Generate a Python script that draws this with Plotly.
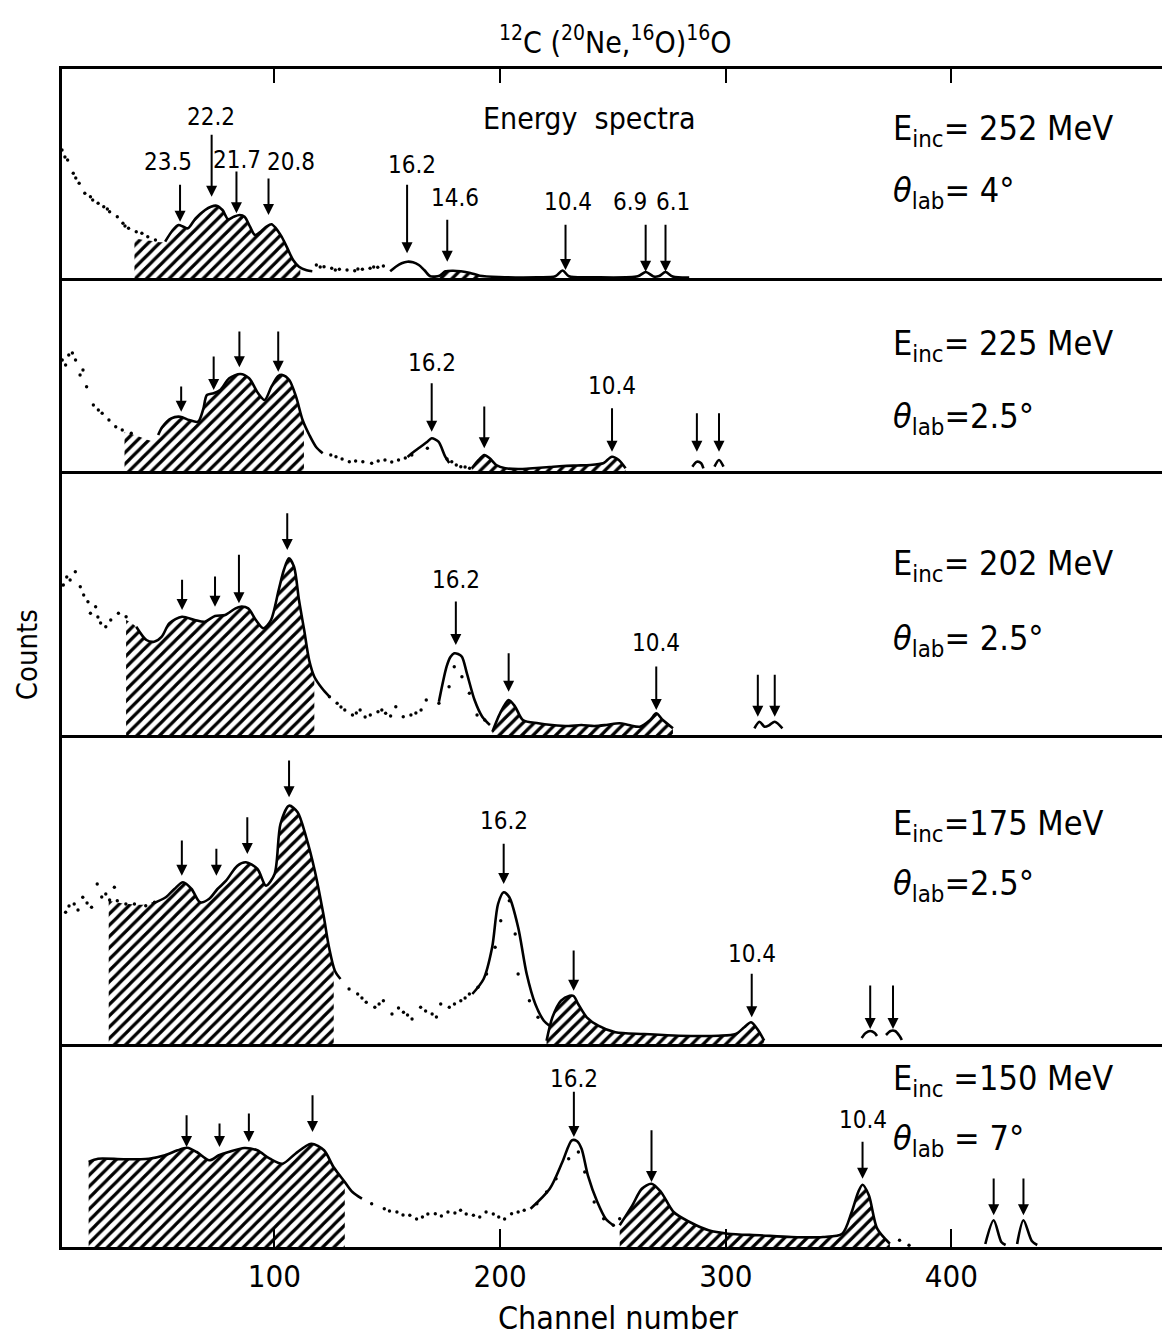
import plotly.graph_objects as go
from plotly.subplots import make_subplots

# ---------------- data (channel number, counts in arbitrary units) ----------------
X_RANGE = [5.9, 495.5]
TICKS = [100, 200, 300, 400]
PANEL_H = [209, 193, 264, 309, 203]

# Panel 1 : E_inc = 252 MeV, theta = 4 deg
P1_DOTS_C = [5.9, 8.4, 10.9, 13.5, 16.0, 18.5, 21.9, 24.4, 27.0, 30.4, 32.9, 35.4, 38.8, 41.3, 43.9, 47.3,
             7.2, 12.0, 19.5, 26.0, 33.8,
             118.6, 122.0, 125.4, 128.8, 132.2, 135.6, 139.0, 142.4, 145.8, 148.3, 120.3, 127.0, 137.0, 144.0]
P1_DOTS_N = [128, 118, 104.7, 94.7, 84.7, 81.3, 74.7, 71.3, 66.3, 61.3, 54.7, 49.7, 46.3, 44.7, 41.3, 38,
             121, 100, 78, 69, 52,
             13, 11.3, 9.7, 8.7, 8, 7.3, 8.7, 9.7, 10.7, 12, 11, 8, 9, 11]
P1_HATCH_A_C = [38, 42, 46, 51.6, 55.0, 57.5, 59.7, 61.7, 65.1, 69.3, 71.9, 74.4, 77.0, 79.5, 82.0, 84.6, 86.8,
                89.2, 91.4, 93.9, 96.5, 98.7, 100.7, 103.2, 105.8, 108.3, 110.9, 111.5]
P1_HATCH_A_N = [40, 38, 37, 36.3, 48, 53, 51.3, 49.7, 59.7, 68, 71.3, 72.3, 68, 58.7, 61.3, 63, 61.3,
                51.3, 43, 46.3, 51.3, 53.7, 49.7, 41.3, 29.7, 18, 11.3, 10]
P1_CURVE_A_C = [51.6, 55.0, 57.5, 59.7, 61.7, 65.1, 69.3, 71.9, 74.4, 77.0, 79.5, 82.0, 84.6, 86.8,
                89.2, 91.4, 93.9, 96.5, 98.7, 100.7, 103.2, 105.8, 108.3, 110.9, 114.3, 116.8]
P1_CURVE_A_N = [36.3, 48, 53, 51.3, 49.7, 59.7, 68, 71.3, 72.3, 68, 58.7, 61.3, 63, 61.3,
                51.3, 43, 46.3, 51.3, 53.7, 49.7, 41.3, 29.7, 18, 11.3, 7.7, 6.7]
P1_HATCH_B_C = [173.2, 175.8, 179.2, 182.6, 186.8, 191.0]
P1_HATCH_B_N = [2.3, 6.7, 7.3, 6.7, 5, 2.3]
P1_CURVE_B_C = [151.3, 153.8, 156.4, 158.9, 161.4, 164.0, 166.5, 169.1, 173.2, 175.8, 179.2, 182.6, 186.8, 191.0,
                199.5, 216.4, 224.5, 227.7, 230.5, 241.8, 261.0, 264.6, 268.0, 270.5, 273.3, 276.5, 283.8]
P1_CURVE_B_N = [6.7, 11.3, 14.7, 16.3, 15.7, 13, 7.7, 1.7, 2.3, 6.7, 7.3, 6.7, 5, 2.3,
                1, 0.7, 1.7, 7.5, 1.7, 0.7, 1.7, 6, 1.5, 2, 6, 1.5, 0.5]
P1_ARROW_C = [58.2, 72.2, 83.2, 97.4, 158.8, 176.6, 229.0, 264.5, 273.3]
P1_ARROW_TAIL = [94.7, 144.7, 108, 101, 94.7, 59.7, 54.7, 54.7, 54.7]
P1_ARROW_TIP = [56.3, 81.3, 64.7, 63, 24.7, 16.3, 8, 6.3, 6.3]
P1_LABELS = ["23.5", "22.2", "21.7", "20.8", "16.2", "14.6", "10.4", "6.9", "6.1"]
P1_LABEL_C = [52.8, 71.7, 83.4, 107.4, 161.0, 180.0, 229.9, 257.4, 276.6]
P1_LABEL_N = [116.3, 161, 118, 116, 113, 80, 76, 76, 76]

# Panel 2 : E_inc = 225 MeV, theta = 2.5 deg
P2_DOTS_C = [6.0, 8.9, 11.9, 13.9, 16.8, 19.8, 23.7, 26.7, 29.7, 32.6, 36.6, 7.5, 10.5, 15.2, 22.0,
             125, 127.3, 130, 133.2, 136, 139.2, 143.1, 146, 149.0, 152, 155.0, 158, 160.9, 167.8,
             176.5, 178.6, 180.6, 182.6, 184.5, 186.5]
P2_DOTS_N = [111, 116, 111, 96, 84.3, 66, 57.7, 51, 44.3, 41, 37.7, 106, 118, 101, 61,
             16, 14.3, 12, 9.3, 10, 9.3, 7.7, 10, 11, 9, 11, 13, 16, 22.7,
             12, 9.3, 6, 4.3, 4, 2.7]
P2_HATCH_A_C = [33.6, 36.6, 40.5, 44, 46.4, 48.5, 50.4, 54.3, 58.3, 62.2, 66.2, 68.5, 70.1, 73.1, 76.0, 80.0,
                84.9, 88.8, 92.8, 95.7, 98.7, 101.7, 103.6, 106.6, 109.6, 112.5, 113.1]
P2_HATCH_A_N = [39, 37, 34, 31, 30, 36, 44.3, 52.7, 54.3, 51, 49.3, 62, 76, 77.7, 81, 92.7,
                97, 92.7, 77.7, 71, 84.3, 95, 96, 91, 74.3, 51, 48]
P2_CURVE_A_C = [48.5, 50.4, 54.3, 58.3, 62.2, 66.2, 68.5, 70.1, 73.1, 76.0, 80.0, 84.9, 88.8, 92.8, 95.7,
                98.7, 101.7, 103.6, 106.6, 109.6, 112.5, 115.5, 118.4, 121.4]
P2_CURVE_A_N = [36, 44.3, 52.7, 54.3, 51, 49.3, 62, 76, 77.7, 81, 92.7, 97, 92.7, 77.7, 71,
                84.3, 95, 96, 91, 74.3, 51, 36, 24.3, 17.7]
P2_CURVE_B_C = [159, 160.9, 164.8, 167.8, 169.7, 172.7, 175.7, 177.5]
P2_CURVE_B_N = [14, 17.7, 24.3, 29.3, 32.7, 29.3, 14.3, 8]
P2_HATCH_B_C = [187.5, 190.5, 193.0, 195.4, 198.3, 202.3, 210, 216.1, 222, 228, 234, 240, 245.7, 246.7,
                249.6, 252.6, 255.6]
P2_HATCH_B_N = [2.7, 11, 16, 12.7, 6, 2.7, 2, 3, 4, 5, 5.5, 6, 7.7, 9.3, 14.3, 11, 2.7]
P2_BUMP1_C = [285.2, 287.2, 289.1, 290.1]
P2_BUMP1_N = [4.3, 9.3, 7.7, 2.7]
P2_BUMP2_C = [295.0, 297.0, 299.0]
P2_BUMP2_N = [4.3, 11, 4.3]
P2_ARROW_C = [58.7, 73.1, 84.5, 101.7, 169.7, 193.0, 249.6, 287.2, 297.0]
P2_ARROW_TAIL = [86, 116, 141, 141, 89.3, 66, 64.3, 59.3, 59.3]
P2_ARROW_TIP = [59.3, 81, 103.7, 99.3, 39.3, 22.7, 19.3, 19.3, 19.3]
P2_LABELS = ["16.2", "10.4"]
P2_LABEL_C = [169.7, 249.6]
P2_LABEL_N = [108, 85]

# Panel 3 : E_inc = 202 MeV, theta = 2.5 deg
P3_DOTS_C = [6.5, 9.5, 11.8, 14.0, 17.4, 18.5, 20.8, 23, 25.3, 27.5, 30.9, 34.3, 8.0, 15.5, 21.8,
             124.4, 127.8, 131.2, 134.6, 138.0, 142.5, 145.9, 149.3, 153.8, 157.1, 160.5, 165.0, 167.3,
             172.9, 177.4, 179.7, 183.1, 186.4, 189.8, 193.2, 129.5, 136.3, 140.2, 147.6, 151.5, 162.7]
P3_DOTS_N = [150, 155, 163.3, 148.3, 133.3, 121.7, 128.3, 112, 108.3, 115, 121.7, 118.3, 158, 140, 118,
             38.3, 31.7, 25, 20, 25, 20, 23.3, 21.7, 28.3, 18.3, 20, 25, 35,
             31.7, 48.3, 68.3, 58.3, 41.7, 20, 15, 28, 22, 18, 25, 19, 22]
P3_HATCH_A_C = [34.3, 38.8, 43.3, 46.7, 50.1, 53.5, 59.1, 64.7, 69.2, 73.7, 78.2, 82.8, 85.0, 88.4, 91.8,
                95.2, 98.5, 101.9, 104.2, 106.4, 108.7, 110.9, 113.2, 115.4, 117.7]
P3_HATCH_A_N = [115, 108.3, 95, 93.3, 98.3, 111.7, 118.3, 115, 113.3, 119, 120, 126.7, 128.3, 126.7, 115,
                106.7, 115, 145, 165, 176.7, 168.3, 135, 105, 75, 58.3]
P3_CURVE_A_C = [38.8, 43.3, 46.7, 50.1, 53.5, 59.1, 64.7, 69.2, 73.7, 78.2, 82.8, 85.0, 88.4, 91.8,
                95.2, 98.5, 101.9, 104.2, 106.4, 108.7, 110.9, 113.2, 115.4, 117.7, 121.1, 124.4]
P3_CURVE_A_N = [108.3, 95, 93.3, 98.3, 111.7, 118.3, 115, 113.3, 119, 120, 126.7, 128.3, 126.7, 115,
                106.7, 115, 145, 165, 176.7, 168.3, 135, 105, 75, 58.3, 46.7, 38.3]
P3_CURVE_B_C = [172.9, 176.3, 178.0, 179.7, 181.4, 183.1, 185.3, 188.7, 192.1, 195.5]
P3_CURVE_B_N = [33.3, 68.3, 78, 81.7, 81, 78.3, 61.7, 35, 18.3, 10]
P3_HATCH_B_C = [196.6, 200.0, 203.8, 206.7, 210.1, 216.9, 223, 230.4, 236, 241.7, 247, 252.9, 257, 262.0,
                266.5, 269.2, 272.1, 276.6]
P3_HATCH_B_N = [3.3, 21.7, 35, 28.3, 15, 11.7, 10, 9, 10, 9, 10, 11.7, 10, 8.3, 15, 21.7, 15, 6.7]
P3_BUMP_C = [312.7, 314.9, 317.2, 319.4, 321.7, 325.1]
P3_BUMP_N = [6.7, 13.3, 8.3, 10, 13.3, 6.7]
P3_ARROW_C = [59.1, 73.7, 84.3, 105.7, 180.4, 203.8, 269.2, 314.2, 321.7]
P3_ARROW_TAIL = [156.7, 160, 181.7, 223.3, 135, 83.3, 70, 61.7, 61.7]
P3_ARROW_TIP = [125, 128.3, 131.7, 185, 90, 43.3, 25, 18.3, 18.3]
P3_LABELS = ["16.2", "10.4"]
P3_LABEL_C = [180.4, 269.2]
P3_LABEL_N = [155, 91.7]

# Panel 4 : E_inc = 175 MeV, theta = 2.5 deg
P4_DOTS_C = [7.5, 9, 11.3, 13, 15.1, 17, 19.0, 21.5, 23.5, 25.3, 27, 29.1, 30.4, 34.2, 38.0, 43.0, 46.9,
             133.1, 136.9, 140.7, 144.5, 148.3, 152.1, 157.2, 161.0, 164.8, 169.9, 173.7, 177.5, 182.6,
             186.4, 190.2, 194.0, 197.8, 200.3, 204.1, 206.7, 208.0, 213.0, 216.8,
             138.8, 146.4, 155.0, 159.0, 167.0, 171.8, 179.8, 184.5]
P4_DOTS_N = [131.7, 138, 140, 134, 146.7, 141, 136.7, 160, 147, 150, 144, 156.7, 143.3, 140, 140, 138.3, 141.7,
             55, 50, 41.7, 36.7, 43.3, 30, 31.7, 25, 36.7, 30, 40, 36.7, 43.3,
             50, 56.7, 70, 96.7, 123.3, 143.3, 110, 70, 43.3, 26.7,
             46, 40, 36, 29, 33, 27, 40, 46]
P4_HATCH_A_C = [26.6, 35.4, 45.6, 51.9, 55.7, 59.5, 63.3, 67.1, 71.0, 74.8, 78.6, 83.6, 87.4, 92.5, 96.3,
                100.1, 102.7, 106.5, 110.3, 114.1, 117.9, 121.7, 124.2, 126.3]
P4_HATCH_A_N = [143.3, 140, 140, 146.7, 155, 161.7, 155, 141.7, 145, 155, 163.3, 178.3, 181.7, 175, 158.3,
                170, 220, 238.3, 231.7, 206.7, 173.3, 130, 96.7, 78]
P4_CURVE_A_C = [45.6, 51.9, 55.7, 59.5, 63.3, 67.1, 71.0, 74.8, 78.6, 83.6, 87.4, 92.5, 96.3,
                100.1, 102.7, 106.5, 110.3, 114.1, 117.9, 121.7, 124.2, 126.8, 129.3]
P4_CURVE_A_N = [140, 146.7, 155, 161.7, 155, 141.7, 145, 155, 163.3, 178.3, 181.7, 175, 158.3,
                170, 220, 238.3, 231.7, 206.7, 173.3, 130, 96.7, 73.3, 65]
P4_CURVE_B_C = [187.7, 192.7, 196.5, 199.1, 201.6, 204.1, 208.0, 211.8, 215.6, 219.4, 221.9]
P4_CURVE_B_N = [50, 65, 96.7, 140, 151.7, 146.7, 116.7, 70, 40, 23.3, 18.3]
P4_HATCH_B_C = [220.6, 223.2, 227.0, 230.8, 232.6, 234.6, 238.4, 243.5, 251.1, 263.8, 279.0, 296.8, 304.4,
                308.2, 311.2, 314.5, 317.0]
P4_HATCH_B_N = [3.3, 26.7, 43.3, 48.3, 48, 40, 26.7, 18.3, 11.7, 10, 8.3, 8.3, 10, 16.7, 21.7, 13.3, 3.3]
P4_BUMP1_C = [360.2, 362, 364, 366, 367]
P4_BUMP1_N = [6, 11, 13, 11, 8]
P4_BUMP2_C = [371, 373, 375, 377, 378]
P4_BUMP2_N = [9, 13, 13, 8, 4]
P4_ARROW_C = [59.0, 74.3, 88.0, 106.5, 201.6, 232.6, 311.5, 364.0, 374.1]
P4_ARROW_TAIL = [205, 196.7, 228.3, 285, 201.7, 95, 71.7, 60, 60]
P4_ARROW_TIP = [168.3, 168.3, 190, 246.7, 160, 53.3, 26.7, 15, 15]
P4_LABELS = ["16.2", "10.4"]
P4_LABEL_C = [201.6, 311.5]
P4_LABEL_N = [223.3, 90]

# Panel 5 : E_inc = 150 MeV, theta = 7 deg
P5_DOTS_C = [143.1, 148.7, 154.3, 160.0, 165.6, 171.3, 176.9, 182.5, 188.2, 193.8, 199.4, 205.1, 210.7,
             216.3, 220.6, 224.8, 230.4, 234.7, 237.5, 241.7, 245.9, 250.2, 253.0,
             151, 157, 163, 168, 174, 180, 185, 191, 197, 202, 208, 377.0, 381.2]
P5_DOTS_N = [43.3, 38.3, 35, 31.7, 30, 33.3, 35, 36.7, 31.7, 35, 30, 33.3, 36.7,
             43.3, 55, 68.3, 88.3, 95, 75, 45, 28.3, 21.7, 28.3,
             36, 32, 28, 33, 31, 34, 33, 30, 33, 28, 35, 6.7, 1.7]
P5_HATCH_A_C = [17.7, 21.9, 33.2, 44.4, 51.5, 57.1, 61.4, 65.6, 71.2, 75.4, 79.7, 86.7, 92.4, 98.0, 103.6,
                109.3, 116.3, 122.0, 126.2, 131.2]
P5_HATCH_A_N = [85, 88.3, 87.7, 88.3, 91.7, 96.7, 99.3, 95, 86.7, 91.7, 95, 99, 96.7, 88.3, 83.3,
                93.3, 103.3, 96.7, 80, 65]
P5_CURVE_A_C = P5_HATCH_A_C + [134.6, 138.8]
P5_CURVE_A_N = P5_HATCH_A_N + [55, 48.3]
P5_CURVE_B_C = [213.5, 222.0, 227.6, 231.8, 234.0, 236.1, 238.9, 243.1, 246.8, 250.2]
P5_CURVE_B_N = [38.3, 58.3, 85, 106.7, 106, 98.3, 71.7, 45, 28.3, 21.7]
P5_HATCH_B_C = [253.0, 258.6, 262.8, 267.1, 271.3, 276.9, 284.0, 292.4, 300.9, 315.0, 329.1, 343.1, 351.6,
                355.8, 358.7, 360.6, 363.4, 367.1, 372.7]
P5_HATCH_B_N = [21.7, 41.7, 58.3, 63.3, 55, 35, 25, 16.7, 13.3, 11.7, 10, 10, 13.3,
                35, 55, 62.3, 51.7, 18.3, 3.3]
P5_PEAK1_C = [415.0, 418.7, 422.1, 424.0]
P5_PEAK1_N = [3, 26.7, 5, 2]
P5_PEAK2_C = [429.1, 431.9, 435.6, 438.0]
P5_PEAK2_N = [3, 26.7, 6, 2]
P5_ARROW_C = [61.1, 75.7, 88.7, 116.9, 232.7, 267.1, 360.6, 418.7, 431.9]
P5_ARROW_TAIL = [133.3, 125, 135, 153.3, 156.7, 118.3, 106.7, 70, 70]
P5_ARROW_TIP = [100, 100, 105, 115, 110, 65, 68.3, 31.7, 31.7]
P5_LABELS = ["16.2", "10.4"]
P5_LABEL_C = [232.7, 360.6]
P5_LABEL_N = [168, 126.7]

E_TEXT = ["E<sub>inc</sub>= 252 MeV", "E<sub>inc</sub>= 225 MeV", "E<sub>inc</sub>= 202 MeV",
          "E<sub>inc</sub>=175 MeV", "E<sub>inc</sub> =150 MeV"]
T_TEXT = ["<i>θ</i><sub>lab</sub>= 4°", "<i>θ</i><sub>lab</sub>=2.5°", "<i>θ</i><sub>lab</sub>= 2.5°",
          "<i>θ</i><sub>lab</sub>=2.5°", "<i>θ</i><sub>lab</sub> = 7°"]
E_TEXT_N = [148, 126, 170, 219, 167]
T_TEXT_N = [86, 53, 95, 159, 107]
RIGHT_TEXT_C = 373.0

# ---------------- figure ----------------
FONT = "Liberation Sans Narrow, DejaVu Sans Condensed, Liberation Sans, Arial, sans-serif"
HATCH = dict(shape="/", size=8, solidity=0.4, fgcolor="black", fgopacity=1, bgcolor="rgba(0,0,0,0)")

fig = make_subplots(rows=5, cols=1, shared_xaxes=True, vertical_spacing=0, row_heights=PANEL_H)


def add_hatch(row, c, n):
    fig.add_trace(go.Scatter(x=c, y=n, mode="lines", line=dict(width=0, color="black", shape="spline"),
                             fill="tozeroy", fillcolor="rgba(0,0,0,0)", fillpattern=HATCH,
                             hoverinfo="skip"), row=row, col=1)


def add_curve(row, c, n, w=2.6):
    fig.add_trace(go.Scatter(x=c, y=n, mode="lines",
                             line=dict(width=w, color="black", shape="spline", smoothing=0.8)),
                  row=row, col=1)


def add_dots(row, c, n):
    fig.add_trace(go.Scatter(x=c, y=n, mode="markers",
                             marker=dict(size=3.4, color="black")), row=row, col=1)


panels = [
    dict(dots=(P1_DOTS_C, P1_DOTS_N),
         hatch=[(P1_HATCH_A_C, P1_HATCH_A_N), (P1_HATCH_B_C, P1_HATCH_B_N)],
         curves=[(P1_CURVE_A_C, P1_CURVE_A_N), (P1_CURVE_B_C, P1_CURVE_B_N)],
         arrows=(P1_ARROW_C, P1_ARROW_TAIL, P1_ARROW_TIP),
         labels=(P1_LABELS, P1_LABEL_C, P1_LABEL_N)),
    dict(dots=(P2_DOTS_C, P2_DOTS_N),
         hatch=[(P2_HATCH_A_C, P2_HATCH_A_N), (P2_HATCH_B_C, P2_HATCH_B_N)],
         curves=[(P2_CURVE_A_C, P2_CURVE_A_N), (P2_CURVE_B_C, P2_CURVE_B_N), (P2_HATCH_B_C, P2_HATCH_B_N),
                 (P2_BUMP1_C, P2_BUMP1_N), (P2_BUMP2_C, P2_BUMP2_N)],
         arrows=(P2_ARROW_C, P2_ARROW_TAIL, P2_ARROW_TIP),
         labels=(P2_LABELS, P2_LABEL_C, P2_LABEL_N)),
    dict(dots=(P3_DOTS_C, P3_DOTS_N),
         hatch=[(P3_HATCH_A_C, P3_HATCH_A_N), (P3_HATCH_B_C, P3_HATCH_B_N)],
         curves=[(P3_CURVE_A_C, P3_CURVE_A_N), (P3_CURVE_B_C, P3_CURVE_B_N), (P3_HATCH_B_C, P3_HATCH_B_N),
                 (P3_BUMP_C, P3_BUMP_N)],
         arrows=(P3_ARROW_C, P3_ARROW_TAIL, P3_ARROW_TIP),
         labels=(P3_LABELS, P3_LABEL_C, P3_LABEL_N)),
    dict(dots=(P4_DOTS_C, P4_DOTS_N),
         hatch=[(P4_HATCH_A_C, P4_HATCH_A_N), (P4_HATCH_B_C, P4_HATCH_B_N)],
         curves=[(P4_CURVE_A_C, P4_CURVE_A_N), (P4_CURVE_B_C, P4_CURVE_B_N), (P4_HATCH_B_C, P4_HATCH_B_N),
                 (P4_BUMP1_C, P4_BUMP1_N), (P4_BUMP2_C, P4_BUMP2_N)],
         arrows=(P4_ARROW_C, P4_ARROW_TAIL, P4_ARROW_TIP),
         labels=(P4_LABELS, P4_LABEL_C, P4_LABEL_N)),
    dict(dots=(P5_DOTS_C, P5_DOTS_N),
         hatch=[(P5_HATCH_A_C, P5_HATCH_A_N), (P5_HATCH_B_C, P5_HATCH_B_N)],
         curves=[(P5_CURVE_A_C, P5_CURVE_A_N), (P5_CURVE_B_C, P5_CURVE_B_N), (P5_HATCH_B_C, P5_HATCH_B_N),
                 (P5_PEAK1_C, P5_PEAK1_N), (P5_PEAK2_C, P5_PEAK2_N)],
         arrows=(P5_ARROW_C, P5_ARROW_TAIL, P5_ARROW_TIP),
         labels=(P5_LABELS, P5_LABEL_C, P5_LABEL_N)),
]

annotations = []
for i, p in enumerate(panels):
    row = i + 1
    xr = "x" if row == 1 else f"x{row}"
    yr = "y" if row == 1 else f"y{row}"
    for hc, hn in p["hatch"]:
        add_hatch(row, hc, hn)
    add_dots(row, *p["dots"])
    for cc, cn in p["curves"]:
        add_curve(row, cc, cn)
    ac, atail, atip = p["arrows"]
    for c, t0, t1 in zip(ac, atail, atip):
        annotations.append(dict(x=c, y=t1, ax=c, ay=t0, xref=xr, yref=yr, axref=xr, ayref=yr,
                                text="", showarrow=True, arrowhead=2, arrowsize=1.1,
                                arrowwidth=2, arrowcolor="black"))
    lt, lc, ln = p["labels"]
    for t, c, n in zip(lt, lc, ln):
        annotations.append(dict(x=c, y=n, xref=xr, yref=yr, text=t, showarrow=False,
                                xanchor="center", yanchor="middle",
                                font=dict(size=24, family=FONT, color="black")))
    annotations.append(dict(x=RIGHT_TEXT_C, y=E_TEXT_N[i], xref=xr, yref=yr, text=E_TEXT[i],
                            showarrow=False, xanchor="left", yanchor="middle",
                            font=dict(size=34, family=FONT, color="black")))
    annotations.append(dict(x=RIGHT_TEXT_C, y=T_TEXT_N[i], xref=xr, yref=yr, text=T_TEXT[i],
                            showarrow=False, xanchor="left", yanchor="middle",
                            font=dict(size=34, family=FONT, color="black")))
    fig.update_yaxes(range=[0, PANEL_H[i]], showticklabels=False, ticks="", showgrid=False,
                     zeroline=False, showline=True, linecolor="black", linewidth=3, mirror=True,
                     row=row, col=1)
    fig.update_xaxes(range=X_RANGE, showgrid=False, zeroline=False, showline=True,
                     linecolor="black", linewidth=3, showticklabels=False, ticks="",
                     row=row, col=1)

# top panel ticks pointing into the frame from above
fig.update_xaxes(side="top", mirror=True, ticks="inside", ticklen=14, tickwidth=2, tickcolor="black",
                 tickvals=TICKS, row=1, col=1)
# bottom axis
fig.update_xaxes(ticks="inside", ticklen=18, tickwidth=2, tickcolor="black", tickvals=TICKS,
                 showticklabels=True, tickfont=dict(size=31, family=FONT, color="black"),
                 ticklabelstandoff=0, row=5, col=1)

annotations.append(dict(x=239.2, y=160, xref="x", yref="y", text="Energy  spectra", showarrow=False,
                        xanchor="center", yanchor="middle",
                        font=dict(size=30, family=FONT, color="black")))
annotations.append(dict(x=0.501, y=1.0246, xref="paper", yref="paper", showarrow=False,
                        xanchor="center", yanchor="middle",
                        text="<sup>12</sup>C (<sup>20</sup>Ne,<sup>16</sup>O)<sup>16</sup>O",
                        font=dict(size=30, family=FONT, color="black")))
annotations.append(dict(x=-0.0315, y=0.5025, xref="paper", yref="paper", showarrow=False,
                        xanchor="center", yanchor="middle",
                        text="Counts", textangle=-90, font=dict(size=29, family=FONT, color="black")))
annotations.append(dict(x=0.5036, y=-0.0603, xref="paper", yref="paper", showarrow=False,
                        xanchor="center", yanchor="middle",
                        text="Channel number", font=dict(size=32, family=FONT, color="black")))

# the page body has an 8 px default margin, so the figure is sized/offset to compensate
fig.update_layout(width=1162, height=1331, margin=dict(l=54, r=0, t=61, b=92),
                  paper_bgcolor="white", plot_bgcolor="white", showlegend=False,
                  annotations=annotations)

fig.write_html("out.html")
